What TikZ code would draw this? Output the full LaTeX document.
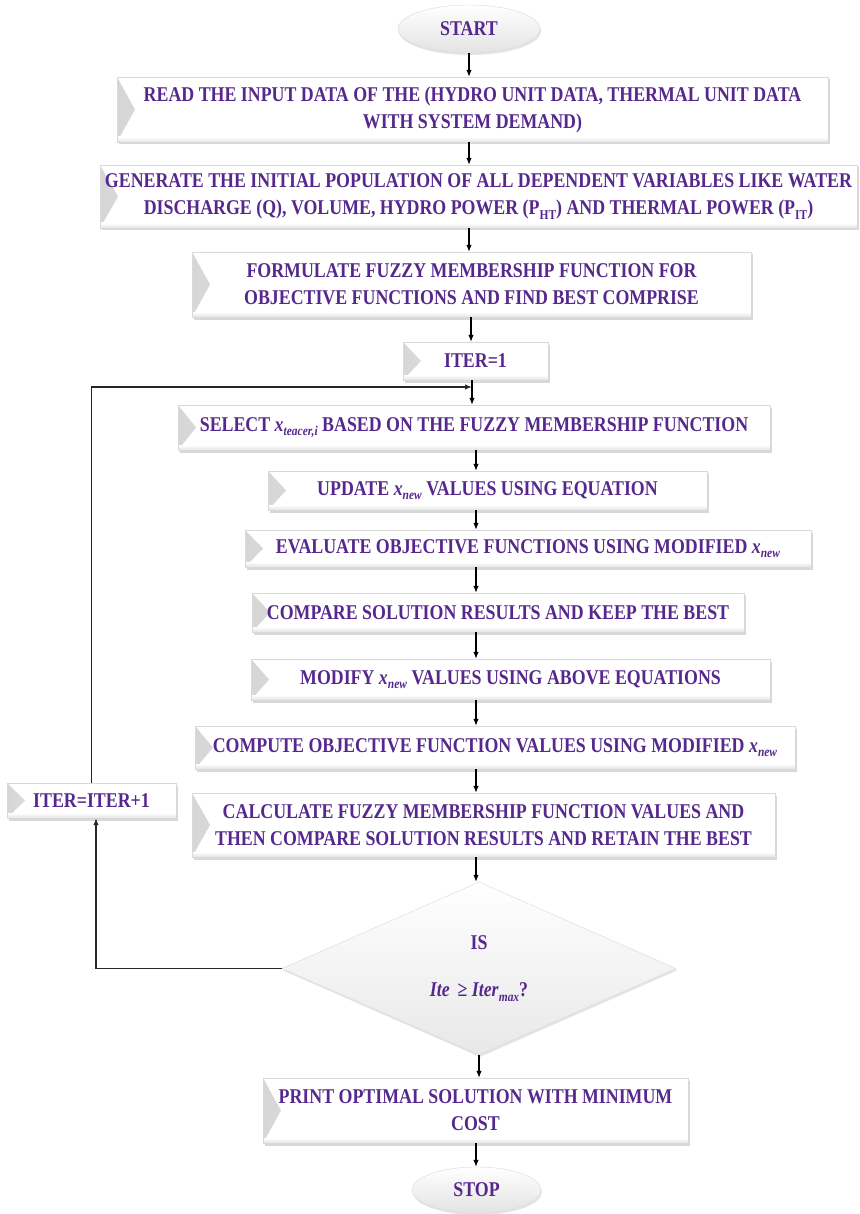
\documentclass[tikz,border=0pt]{standalone}
\usepackage{fontspec}
\newfontfamily\boxfont{Liberation Serif}[FakeStretch=0.85]
\usetikzlibrary{shapes.geometric,shadows,arrows.meta}
\definecolor{txt}{RGB}{86,40,142}
\newcommand\mysub[1]{\raisebox{-0.45ex}{\fontsize{13.5}{13.5}\selectfont #1}}
\begin{document}
\begin{tikzpicture}[x=1pt,y=-1pt,
  bevel/.style={path picture={
     \shade[left color=gray!32,right color=white]
       (path picture bounding box.north west) -- ([xshift=18pt]path picture bounding box.west)
       -- (path picture bounding box.south west) -- cycle;
     \shade[top color=white,bottom color=gray!22]
       ([yshift=5pt]path picture bounding box.south west) -- ([yshift=5pt]path picture bounding box.south east)
       -- (path picture bounding box.south east) -- (path picture bounding box.south west) -- cycle;}},
  box/.style={draw=gray!30,line width=0.4pt,fill=white,bevel,
     drop shadow={shadow xshift=1.5pt,shadow yshift=-2.5pt,fill=gray!60,opacity=0.5},
     inner sep=0pt,align=center,text=txt,
     font=\boxfont\bfseries\fontsize{21}{27}\selectfont},
  term/.style={ellipse,draw=gray!30,line width=0.4pt,top color=white,bottom color=gray!22,
     drop shadow={shadow xshift=1pt,shadow yshift=-2pt,fill=gray!50,opacity=0.4},
     inner sep=0pt,text=txt,font=\boxfont\bfseries\fontsize{21}{27}\selectfont},
  decision/.style={diamond,draw=gray!30,line width=0.4pt,top color=white,bottom color=gray!18,
     drop shadow={shadow xshift=1pt,shadow yshift=-2pt,fill=gray!50,opacity=0.4},
     inner sep=0pt,align=center,text=txt,font=\boxfont\bfseries\fontsize{21}{27}\selectfont},
  arr/.style={-{Latex[length=7pt,width=5.5pt]},line width=1.1pt,black},
  loopline/.style={-{Latex[length=7pt,width=5.5pt]},line width=1.3pt,black!85}]
\useasboundingbox[fill=white] (0,0) rectangle (859,1214);

\node[term,minimum width=142pt,minimum height=48pt] (start) at (469,29) {START};
\node[box,minimum width=711pt,minimum height=65pt] (read) at (472.5,109.5)
  {READ THE INPUT DATA OF THE (HYDRO UNIT DATA, THERMAL UNIT DATA\\WITH SYSTEM DEMAND)};
\node[box,minimum width=757pt,minimum height=63pt] (gen) at (478.5,196.5)
  {GENERATE THE INITIAL POPULATION OF ALL DEPENDENT VARIABLES LIKE WATER\\DISCHARGE (Q), VOLUME, HYDRO POWER (P\mysub{HT}) AND THERMAL POWER (P\mysub{IT})};
\node[box,minimum width=559pt,minimum height=65pt] (form) at (471.5,284.5)
  {FORMULATE FUZZY MEMBERSHIP FUNCTION FOR\\OBJECTIVE FUNCTIONS AND FIND BEST COMPRISE};
\node[box,minimum width=145pt,minimum height=38pt] (iter1) at (475.5,361) {ITER=1};
\node[box,minimum width=592pt,minimum height=45pt] (select) at (474,427.5)
  {SELECT \textit{x}\mysub{\textit{teacer,i}} BASED ON THE FUZZY MEMBERSHIP FUNCTION};
\node[box,minimum width=439pt,minimum height=39pt] (update) at (487.5,490.5)
  {UPDATE \textit{x}\mysub{\textit{new}} VALUES USING EQUATION};
\node[box,minimum width=566pt,minimum height=37pt] (eval) at (528,548.5)
  {EVALUATE OBJECTIVE FUNCTIONS USING MODIFIED \textit{x}\mysub{\textit{new}}};
\node[box,minimum width=492pt,minimum height=39pt] (compare) at (498,612.5)
  {COMPARE SOLUTION RESULTS AND KEEP THE BEST};
\node[box,minimum width=519pt,minimum height=41pt] (modify) at (510.5,679.5)
  {MODIFY \textit{x}\mysub{\textit{new}} VALUES USING ABOVE EQUATIONS};
\node[box,minimum width=600pt,minimum height=43pt] (compute) at (495,747.5)
  {COMPUTE OBJECTIVE FUNCTION VALUES USING MODIFIED \textit{x}\mysub{\textit{new}}};
\node[box,minimum width=583pt,minimum height=64pt] (calc) at (483.5,825)
  {CALCULATE FUZZY MEMBERSHIP FUNCTION VALUES AND\\THEN COMPARE SOLUTION RESULTS AND RETAIN THE BEST};
\node[box,minimum width=169pt,minimum height=35pt] (iterp) at (91.5,800.5) {ITER=ITER+1};
\node[decision,minimum width=394pt,minimum height=173pt] (dec) at (479,968.5)
  {IS\\[20pt]\textit{Ite}\, ≥ \textit{Iter}\mysub{\textit{max}}?};
\node[box,minimum width=425pt,minimum height=65pt] (print) at (475.5,1110.5)
  {PRINT OPTIMAL SOLUTION WITH MINIMUM\\COST};
\node[term,minimum width=129pt,minimum height=46pt] (stop) at (476.5,1190) {STOP};

\coordinate (xa) at (469,0);
\coordinate (xb) at (471,0);
\coordinate (xc) at (472,0);
\coordinate (xd) at (476,0);
\coordinate (lj) at (472,387);
\coordinate (lx) at (96,0);

\draw[arr] (start.south -| xa) -- (read.north -| xa);
\draw[arr] (read.south -| xa) -- (gen.north -| xa);
\draw[arr] (gen.south -| xa) -- (form.north -| xa);
\draw[arr] (form.south -| xb) -- (iter1.north -| xb);
\draw[arr] (iter1.south -| xc) -- (select.north -| xc);
\draw[arr] (select.south -| xd) -- (update.north -| xd);
\draw[arr] (update.south -| xd) -- (eval.north -| xd);
\draw[arr] (eval.south -| xd) -- (compare.north -| xd);
\draw[arr] (compare.south -| xd) -- (modify.north -| xd);
\draw[arr] (modify.south -| xd) -- (compute.north -| xd);
\draw[arr] (compute.south -| xd) -- (calc.north -| xd);
\draw[arr] (calc.south -| xd) -- (dec.north -| xd);
\draw[arr] (dec.south) -- (print.north -| dec.south);
\draw[arr] (print.south -| xd) -- (stop.north -| xd);

\draw[loopline] (dec.west) -- (dec.west -| lx) -- (iterp.south -| lx);
\draw[loopline] (iterp.north) -- (iterp.north |- lj) -- (lj);
\end{tikzpicture}
\end{document}
